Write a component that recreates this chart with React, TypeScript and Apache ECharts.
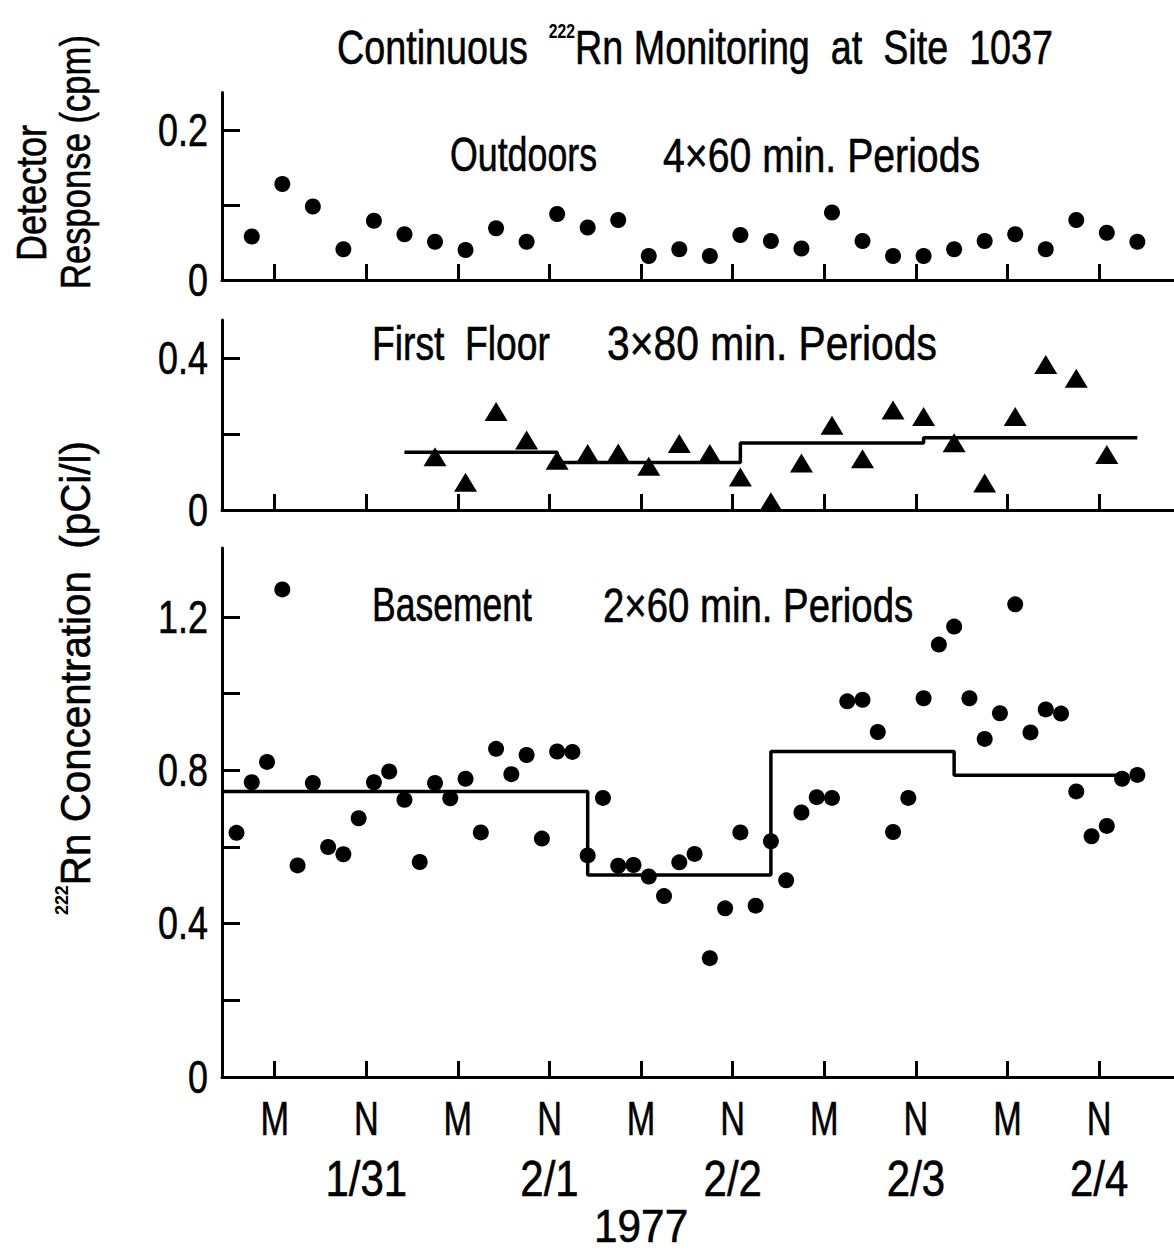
import React, { useEffect, useRef } from "react";
import * as echarts from "echarts";

const FONT = "'Liberation Sans', Arial, sans-serif";

// x values are hours since midnight (M) starting 1/31/1977
const X_MIN = -6.9;
const X_MAX = 117.8;
const xTickHours = [0, 12, 24, 36, 48, 60, 72, 84, 96, 108];
const xTickNames = ["M", "N", "M", "N", "M", "N", "M", "N", "M", "N"];
const xDateLabels = ["", "1/31", "", "2/1", "", "2/2", "", "2/3", "", "2/4"];
const yearLabel = "1977";
const yearHour = 48;

// Outdoors, 4x60 min periods (cpm)
const outdoorHours = [-3, 1, 5, 9, 13, 17, 21, 25, 29, 33, 37, 41, 45, 49, 53, 57, 61, 65, 69, 73, 77, 81, 85, 89, 93, 97, 101, 105, 109, 113];
const outdoorValues = [0.058, 0.128, 0.098, 0.041, 0.079, 0.061, 0.051, 0.04, 0.069, 0.051, 0.088, 0.07, 0.08, 0.032, 0.041, 0.032, 0.06, 0.052, 0.042, 0.09, 0.052, 0.032, 0.032, 0.041, 0.052, 0.061, 0.041, 0.08, 0.063, 0.051];

// First floor, 3x80 min periods (pCi/l)
const floorHours = [21, 25, 29, 33, 37, 41, 45, 49, 53, 57, 61, 65, 69, 73, 77, 81, 85, 89, 93, 97, 101, 105, 109];
const floorValues = [0.14, 0.073, 0.259, 0.184, 0.131, 0.149, 0.15, 0.115, 0.175, 0.149, 0.087, 0.022, 0.124, 0.223, 0.135, 0.263, 0.246, 0.177, 0.071, 0.246, 0.383, 0.347, 0.146];
const floorMeanEdges = [17, 37, 61, 85, 113];
const floorMeanLevels = [0.152, 0.125, 0.176, 0.19];

// Basement, 2x60 min periods (pCi/l)
const basementHours = [-5, -3, -1, 1, 3, 5, 7, 9, 11, 13, 15, 17, 19, 21, 23, 25, 27, 29, 31, 33, 35, 37, 39, 41, 43, 45, 47, 49, 51, 53, 55, 57, 59, 61, 63, 65, 67, 69, 71, 73, 75, 77, 79, 81, 83, 85, 87, 89, 91, 93, 95, 97, 99, 101, 103, 105, 107, 109, 111, 113];
const basementValues = [0.637, 0.769, 0.822, 1.272, 0.552, 0.767, 0.6, 0.581, 0.675, 0.769, 0.797, 0.723, 0.561, 0.767, 0.727, 0.778, 0.638, 0.856, 0.79, 0.84, 0.622, 0.849, 0.848, 0.578, 0.728, 0.551, 0.553, 0.523, 0.472, 0.56, 0.582, 0.31, 0.44, 0.638, 0.447, 0.615, 0.513, 0.69, 0.73, 0.728, 0.98, 0.984, 0.9, 0.639, 0.728, 0.988, 1.128, 1.175, 0.988, 0.882, 0.949, 1.233, 0.899, 0.959, 0.948, 0.745, 0.628, 0.655, 0.778, 0.788];
const basementMeanEdges = [-6.9, 41, 65, 89, 111.5];
const basementMeanLevels = [0.745, 0.527, 0.849, 0.787];

// y axes ticks / labels
const topTicks = [0, 0.1, 0.2];
const topLabels = [0, 0.2];
const midTicks = [0, 0.2, 0.4];
const midLabels = [0, 0.4];
const botTicks = [0, 0.2, 0.4, 0.6, 0.8, 1.0, 1.2];
const botLabels = [0, 0.4, 0.8, 1.2];

const pairs = (xs: number[], ys: number[]) => xs.map((x, i) => [x, ys[i]]);
const stepLine = (edges: number[], levels: number[]) => {
  const out: number[][] = [];
  levels.forEach((lv, i) => {
    out.push([edges[i], lv]);
    out.push([edges[i + 1], lv]);
  });
  return out;
};

const BLACK = "#000";
const AXIS_W = 3;

const yFmt = (v: number) => (Math.abs(v) < 1e-9 ? "0" : v.toFixed(1));

function makeX(gridIndex: number) {
  return {
    type: "value",
    gridIndex,
    min: X_MIN,
    max: X_MAX,
    axisLine: { show: true, onZero: false, lineStyle: { color: BLACK, width: AXIS_W } },
    axisTick: {
      show: true,
      inside: true,
      length: 16,
      customValues: xTickHours,
      lineStyle: { color: BLACK, width: AXIS_W },
    },
    splitLine: { show: false },
    axisLabel: { show: false },
  };
}

function makeY(gridIndex: number, max: number, ticks: number[]) {
  return {
    type: "value",
    gridIndex,
    min: 0,
    max,
    axisLine: { show: true, onZero: false, lineStyle: { color: BLACK, width: AXIS_W } },
    axisTick: {
      show: true,
      inside: true,
      length: 18,
      customValues: ticks,
      lineStyle: { color: BLACK, width: AXIS_W },
    },
    splitLine: { show: false },
    axisLabel: { show: false },
  };
}

export default function App() {
  const ref = useRef<HTMLDivElement>(null);
  useEffect(() => {
    if (!ref.current) return;
    const chart = echarts.init(ref.current, undefined, { renderer: "svg" });

    const ctx = document.createElement("canvas").getContext("2d") as CanvasRenderingContext2D;
    const measure = (text: string, size: number, weight = "normal") => {
      ctx.font = `${weight} ${size}px ${FONT}`;
      return ctx.measureText(text).width || text.length * size * 0.55;
    };

    // plain text helper: scale either to a target width or by a given factor
    const txt = (
      x: number,
      y: number,
      text: string,
      size: number,
      opts: { align?: string; width?: number; scale?: number; rotation?: number } = {}
    ) => {
      const sx = opts.width ? opts.width / measure(text, size) : opts.scale ?? 1;
      return {
        type: "text",
        x,
        y,
        rotation: opts.rotation ?? 0,
        scaleX: sx,
        style: {
          text,
          fill: BLACK,
          stroke: BLACK,
          lineWidth: 0.6,
          fontFamily: FONT,
          fontSize: size,
          align: opts.align ?? "left",
          verticalAlign: "middle",
        },
      };
    };

    const option: any = {
      animation: false,
      backgroundColor: "#fff",
      grid: [
        { left: 222, right: 0, top: 92.5, height: 187.5, outerBoundsMode: "none" },
        { left: 222, right: 0, top: 320, height: 190, outerBoundsMode: "none" },
        { left: 222, right: 0, top: 548, height: 529, outerBoundsMode: "none" },
      ],
      xAxis: [makeX(0), makeX(1), makeX(2)],
      yAxis: [makeY(0, 0.25, topTicks), makeY(1, 0.5, midTicks), makeY(2, 1.38, botTicks)],
      series: [
        {
          name: "Outdoors",
          type: "scatter",
          xAxisIndex: 0,
          yAxisIndex: 0,
          symbol: "circle",
          symbolSize: 16,
          itemStyle: { color: BLACK, opacity: 1 },
          data: pairs(outdoorHours, outdoorValues),
        },
        {
          name: "First Floor mean",
          type: "line",
          xAxisIndex: 1,
          yAxisIndex: 1,
          showSymbol: false,
          lineStyle: { color: BLACK, width: 3.5 },
          data: stepLine(floorMeanEdges, floorMeanLevels),
        },
        {
          name: "First Floor",
          type: "scatter",
          xAxisIndex: 1,
          yAxisIndex: 1,
          symbol: "triangle",
          symbolSize: [23, 19],
          itemStyle: { color: BLACK, opacity: 1 },
          data: pairs(floorHours, floorValues),
        },
        {
          name: "Basement mean",
          type: "line",
          xAxisIndex: 2,
          yAxisIndex: 2,
          showSymbol: false,
          lineStyle: { color: BLACK, width: 3.5 },
          data: stepLine(basementMeanEdges, basementMeanLevels),
        },
        {
          name: "Basement",
          type: "scatter",
          xAxisIndex: 2,
          yAxisIndex: 2,
          symbol: "circle",
          symbolSize: 16,
          itemStyle: { color: BLACK, opacity: 1 },
          data: pairs(basementHours, basementValues),
        },
      ],
    };
    chart.setOption(option);

    // ---- texts, placed through the axes' own scales ----
    const xPix = (v: number) => chart.convertToPixel({ xAxisIndex: 2 }, v) as number;
    const yPix = (g: number, v: number) => chart.convertToPixel({ yAxisIndex: g }, v) as number;

    const graphics: any[] = [];
    const Y_LABEL_SCALE = 0.78;
    const yLabelSets = [topLabels, midLabels, botLabels];
    yLabelSets.forEach((labels, g) => {
      labels.forEach((v) => {
        graphics.push(txt(208, yPix(g, v), yFmt(v), 46, { align: "right", scale: Y_LABEL_SCALE }));
      });
    });
    xTickHours.forEach((h, i) => {
      graphics.push(txt(xPix(h), 1118, xTickNames[i], 49, { align: "center", scale: 0.7 }));
      if (xDateLabels[i]) {
        graphics.push(txt(xPix(h), 1179, xDateLabels[i], 50, { align: "center", scale: 0.84 }));
      }
    });
    graphics.push(txt(xPix(yearHour), 1226, yearLabel, 46, { align: "center", scale: 0.92 }));

    // title with superscript
    const tA = "Continuous  ";
    const tB = "Rn Monitoring  at  Site  1037";
    const tW = measure(tA, 48) + measure("222", 20, "bold") + measure(tB, 48);
    graphics.push({
      type: "text",
      x: 337,
      y: 47,
      scaleX: (1053 - 337) / tW,
      style: {
        text: `{a|${tA}}{s|222}{a|${tB}}`,
        align: "left",
        verticalAlign: "middle",
        rich: {
          a: { fontFamily: FONT, fontSize: 48, fill: BLACK, stroke: BLACK, lineWidth: 0.6, lineHeight: 52 },
          s: { fontFamily: FONT, fontSize: 20, fill: BLACK, fontWeight: "bold", verticalAlign: "top", lineHeight: 20 },
        },
      },
    });

    // panel captions
    graphics.push(txt(450, 155, "Outdoors", 48, { width: 147 }));
    graphics.push(txt(663, 155, "4×60 min. Periods", 48, { width: 317 }));
    graphics.push(txt(372, 343, "First  Floor", 48, { width: 178 }));
    graphics.push(txt(607, 343, "3×80 min. Periods", 48, { width: 330 }));
    graphics.push(txt(372, 605, "Basement", 48, { width: 160 }));
    graphics.push(txt(603, 605, "2×60 min. Periods", 48, { width: 310 }));

    // y-axis titles (rotated)
    graphics.push(txt(31, 193, "Detector", 43, { align: "center", width: 136, rotation: Math.PI / 2 }));
    graphics.push(txt(75, 162, "Response (cpm)", 43, { align: "center", width: 254, rotation: Math.PI / 2 }));
    const rA = "Rn Concentration  (pCi/l)";
    const rW = measure("222", 19, "bold") + measure(rA, 43);
    graphics.push({
      type: "text",
      x: 75,
      y: 678,
      rotation: Math.PI / 2,
      scaleX: 474 / rW,
      style: {
        text: `{s|222}{a|${rA}}`,
        align: "center",
        verticalAlign: "middle",
        rich: {
          a: { fontFamily: FONT, fontSize: 43, fill: BLACK, stroke: BLACK, lineWidth: 0.6, lineHeight: 46 },
          s: { fontFamily: FONT, fontSize: 19, fill: BLACK, fontWeight: "bold", verticalAlign: "top", lineHeight: 19 },
        },
      },
    });

    chart.setOption({ graphic: graphics });
    return () => chart.dispose();
  }, []);
  return (
    <div
      ref={ref}
      style={{ position: "absolute", left: 0, top: 0, width: 1174, height: 1254, background: "#fff" }}
    />
  );
}
